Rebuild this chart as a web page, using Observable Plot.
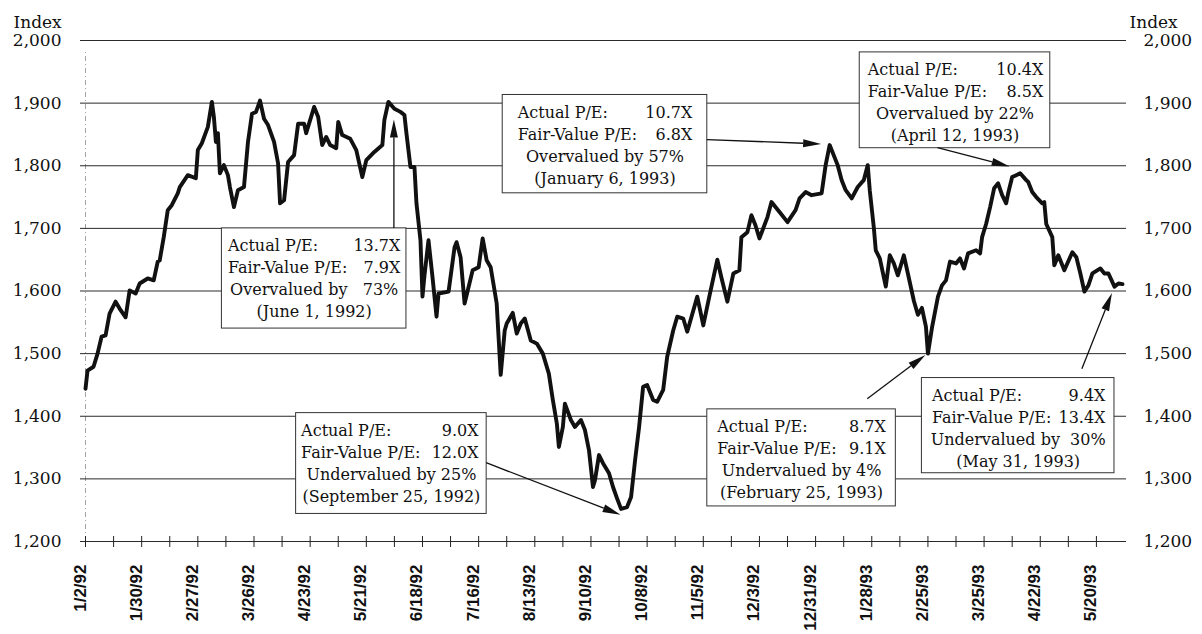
<!DOCTYPE html>
<html><head><meta charset="utf-8">
<script src="https://cdn.jsdelivr.net/npm/d3@7"></script>
<script src="https://cdn.jsdelivr.net/npm/@observablehq/plot@0.6"></script>
<style>body{margin:0;background:#fff}</style>
</head><body><div id="chart"></div>
<script>
// ---- Data ----
const dates = [
"1992-01-02","1992-01-03","1992-01-06","1992-01-08","1992-01-10","1992-01-12","1992-01-14","1992-01-17","1992-01-19","1992-01-22",
"1992-01-24","1992-01-27","1992-01-29","1992-02-02","1992-02-05","1992-02-07","1992-02-08","1992-02-10","1992-02-12","1992-02-14",
"1992-02-17","1992-02-18","1992-02-22","1992-02-26","1992-02-27","1992-02-29","1992-03-03","1992-03-05","1992-03-06","1992-03-07",
"1992-03-08","1992-03-09","1992-03-11","1992-03-13","1992-03-14","1992-03-16","1992-03-18","1992-03-21","1992-03-23","1992-03-25",
"1992-03-27","1992-03-29","1992-03-31","1992-04-02","1992-04-05","1992-04-07","1992-04-08","1992-04-10","1992-04-12","1992-04-15",
"1992-04-17","1992-04-20","1992-04-21","1992-04-25","1992-04-27","1992-04-29","1992-05-01","1992-05-03","1992-05-06","1992-05-07",
"1992-05-09","1992-05-13","1992-05-16","1992-05-19","1992-05-21","1992-05-25","1992-05-29","1992-05-30","1992-06-01","1992-06-04",
"1992-06-07","1992-06-09","1992-06-10","1992-06-12","1992-06-14","1992-06-15","1992-06-17","1992-06-18","1992-06-19","1992-06-21",
"1992-06-23","1992-06-25","1992-06-26","1992-07-01","1992-07-04","1992-07-05","1992-07-07","1992-07-09","1992-07-13","1992-07-16",
"1992-07-18","1992-07-20","1992-07-22","1992-07-25","1992-07-27","1992-07-29","1992-07-30","1992-08-02","1992-08-04","1992-08-06",
"1992-08-08","1992-08-11","1992-08-14","1992-08-17","1992-08-20","1992-08-22","1992-08-24","1992-08-25","1992-08-27","1992-08-28",
"1992-08-31","1992-09-02","1992-09-05","1992-09-07","1992-09-09","1992-09-11","1992-09-12","1992-09-14","1992-09-16","1992-09-19",
"1992-09-21","1992-09-23","1992-09-25","1992-09-28","1992-09-30","1992-10-02","1992-10-04","1992-10-06","1992-10-08","1992-10-11",
"1992-10-13","1992-10-16","1992-10-18","1992-10-21","1992-10-23","1992-10-26","1992-10-28","1992-11-02","1992-11-05","1992-11-08",
"1992-11-12","1992-11-14","1992-11-17","1992-11-20","1992-11-23","1992-11-24","1992-11-27","1992-11-29","1992-12-01","1992-12-03",
"1992-12-07","1992-12-09","1992-12-13","1992-12-17","1992-12-21","1992-12-23","1992-12-26","1992-12-29","1993-01-03","1993-01-05",
"1993-01-07","1993-01-11","1993-01-13","1993-01-15","1993-01-18","1993-01-21","1993-01-24","1993-01-26","1993-01-27","1993-01-29",
"1993-01-30","1993-02-01","1993-02-04","1993-02-06","1993-02-08","1993-02-10","1993-02-13","1993-02-15","1993-02-18","1993-02-20",
"1993-02-22","1993-02-24","1993-02-25","1993-02-27","1993-03-02","1993-03-04","1993-03-06","1993-03-08","1993-03-11","1993-03-13",
"1993-03-15","1993-03-17","1993-03-21","1993-03-23","1993-03-24","1993-03-26","1993-03-28","1993-03-30","1993-04-01","1993-04-03",
"1993-04-05","1993-04-06","1993-04-08","1993-04-10","1993-04-12","1993-04-15","1993-04-16","1993-04-18","1993-04-20","1993-04-23",
"1993-04-24","1993-04-25","1993-04-28","1993-04-29","1993-05-01","1993-05-04","1993-05-08","1993-05-10","1993-05-12","1993-05-14",
"1993-05-16","1993-05-18","1993-05-22","1993-05-24","1993-05-26","1993-05-29","1993-05-31","1993-06-02"
];
const values = [
1444,1473,1479,1500,1527,1529,1564,1583,1572,1558,
1601,1596,1612,1620,1617,1647,1649,1686,1729,1737,
1756,1766,1785,1780,1825,1836,1862,1902,1878,1838,
1852,1788,1801,1785,1766,1734,1761,1766,1838,1883,
1886,1904,1875,1865,1838,1804,1740,1745,1806,1817,
1867,1867,1852,1894,1878,1833,1846,1833,1828,1870,
1849,1843,1825,1782,1809,1822,1833,1873,1902,1891,
1886,1881,1852,1798,1798,1740,1681,1591,1625,1681,
1622,1559,1596,1599,1670,1678,1654,1580,1633,1638,
1684,1649,1638,1580,1466,1537,1548,1565,1532,1548,
1556,1521,1516,1500,1468,1426,1388,1351,1383,1420,
1394,1383,1394,1378,1346,1287,1298,1338,1325,1309,
1287,1269,1252,1255,1271,1330,1383,1447,1450,1426,
1423,1442,1495,1537,1559,1556,1535,1591,1545,1591,
1650,1622,1583,1628,1633,1686,1694,1721,1705,1684,
1718,1742,1726,1710,1729,1748,1758,1753,1756,1801,
1833,1801,1777,1761,1748,1766,1777,1801,1761,1702,
1665,1652,1607,1657,1644,1625,1657,1628,1584,1562,
1573,1543,1500,1541,1591,1609,1617,1647,1644,1652,
1636,1660,1665,1660,1686,1707,1734,1764,1772,1753,
1740,1756,1782,1785,1788,1777,1774,1758,1750,1740,
1742,1707,1686,1641,1657,1633,1662,1654,1628,1599,
1609,1628,1636,1628,1628,1607,1612,1611
];
const yTicks = [1200, 1300, 1400, 1500, 1600, 1700, 1800, 1900, 2000];
const xTickLabels = ["1/2/92","1/30/92","2/27/92","3/26/92","4/23/92","5/21/92","6/18/92","7/16/92","8/13/92","9/10/92",
  "10/8/92","11/5/92","12/3/92","12/31/92","1/28/93","2/25/93","3/25/93","4/22/93","5/20/93"];
const axisTitle = "Index";
const rowLabels = ["Actual P/E:", "Fair-Value P/E:"];
const actualPE = ["13.7X", "9.0X", "10.7X", "10.4X", "8.7X", "9.4X"];
const fairPE = ["7.9X", "12.0X", "6.8X", "8.5X", "9.1X", "13.4X"];
const valuation = ["Overvalued by   73%", "Undervalued by 25%", "Overvalued by 57%", "Overvalued by 22%", "Undervalued by 4%", "Undervalued by  30%"];
const noteDate = ["(June 1, 1992)", "(September 25, 1992)", "(January 6, 1993)", "(April 12, 1993)", "(February 25, 1993)", "(May 31, 1993)"];

// ---- Annotation layout (in data units) ----
const boxLayout = [
  {x1: "1992-03-10", x2: "1992-06-10", top: 1700, bottom: 1540, padL: 6, padR: 6},
  {x1: "1992-04-16", x2: "1992-07-20", top: 1405, bottom: 1244, padL: 5, padR: 8},
  {x1: "1992-07-28", x2: "1992-11-07", top: 1913, bottom: 1756, padL: 15, padR: 15},
  {x1: "1993-01-22", x2: "1993-04-27", top: 1981, bottom: 1828, padL: 8, padR: 7},
  {x1: "1992-11-07", x2: "1993-02-09", top: 1411, bottom: 1256, padL: 10, padR: 10},
  {x1: "1993-02-22", x2: "1993-05-29", top: 1461, bottom: 1309, padL: 10, padR: 9}
];
const arrowLayout = [
  {x1: "1992-06-04", y1: 1700, x2: "1992-06-04", y2: 1873},
  {x1: "1992-07-20", y1: 1325, x2: "1992-09-25", y2: 1242},
  {x1: "1992-11-07", y1: 1841, x2: "1993-01-03", y2: 1834},
  {x1: "1993-03-02", y1: 1828, x2: "1993-04-07", y2: 1798},
  {x1: "1993-01-26", y1: 1427, x2: "1993-02-24", y2: 1497},
  {x1: "1993-05-13", y1: 1475, x2: "1993-05-28", y2: 1596}
];

// ---- Build ----
const series = dates.map((d, i) => ({date: new Date(d), value: values[i]}));
const parseTick = d3.utcParse("%m/%d/%y");
const majorDates = xTickLabels.map(parseTick);
const minorDates = majorDates.slice(0, -1).map(d => d3.utcDay.offset(d, 14));
const allTicks = majorDates.concat(minorDates);
const xLabelData = xTickLabels.map((s, i) => ({date: majorDates[i], label: s}));
const fmt = d3.format(",");

const boxes = boxLayout.map((b, i) => {
  const x1 = new Date(b.x1), x2 = new Date(b.x2);
  return {x1, x2, mid: new Date((+x1 + +x2) / 2), top: b.top, bottom: b.bottom, padL: b.padL, padR: b.padR,
    actual: actualPE[i], fair: fairPE[i], val: valuation[i], date: noteDate[i]};
});

const serif = {fontFamily: "DejaVu Serif", fill: "#111"};
const lineDy = [17.5, 39.5, 61.5, 83.5];

const boxTextMarks = boxes.flatMap(b => [
  Plot.text([b], {x: "x1", y: "top", text: () => rowLabels[0], textAnchor: "start", dx: b.padL, dy: lineDy[0], fontSize: 16, ...serif}),
  Plot.text([b], {x: "x2", y: "top", text: "actual", textAnchor: "end", dx: -b.padR, dy: lineDy[0], fontSize: 16, ...serif}),
  Plot.text([b], {x: "x1", y: "top", text: () => rowLabels[1], textAnchor: "start", dx: b.padL, dy: lineDy[1], fontSize: 16, ...serif}),
  Plot.text([b], {x: "x2", y: "top", text: "fair", textAnchor: "end", dx: -b.padR, dy: lineDy[1], fontSize: 16, ...serif}),
  Plot.text([b], {x: "mid", y: "top", text: "val", textAnchor: "middle", dy: lineDy[2], fontSize: 16, ...serif}),
  Plot.text([b], {x: "mid", y: "top", text: "date", textAnchor: "middle", dy: lineDy[3], fontSize: 16, ...serif})
]);

function arrowsMark(index, scales) {
  const g = d3.create("svg:g");
  for (const a of arrowLayout) {
    const x1 = scales.x(new Date(a.x1)), y1 = scales.y(a.y1);
    const x2 = scales.x(new Date(a.x2)), y2 = scales.y(a.y2);
    const ang = Math.atan2(y2 - y1, x2 - x1);
    const L = 18, W = 4;
    const bx = x2 - L * Math.cos(ang), by = y2 - L * Math.sin(ang);
    g.append("line").attr("x1", x1).attr("y1", y1).attr("x2", bx).attr("y2", by)
      .attr("stroke", "#111").attr("stroke-width", 1.3);
    const px = -Math.sin(ang) * W, py = Math.cos(ang) * W;
    g.append("path").attr("d", `M${x2},${y2}L${bx + px},${by + py}L${bx - px},${by - py}Z`).attr("fill", "#111");
  }
  return g.node();
}

const chart = Plot.plot({
  width: 1202,
  height: 634,
  marginTop: 40,
  marginBottom: 93,
  marginLeft: 80,
  marginRight: 76,
  x: {type: "utc", domain: [new Date("1991-12-30T12:00:00Z"), new Date("1993-06-04T00:00:00Z")], axis: null},
  y: {domain: [1200, 2000], axis: null},
  style: {background: "#fff", color: "#111"},
  marks: [
    Plot.ruleX([majorDates[0]], {y1: 1200, y2: 1985, stroke: "#8a8a8a", strokeWidth: 0.8, strokeDasharray: "5,3,1,3"}),
    Plot.ruleY(yTicks, {stroke: "#2a2a2a", strokeWidth: 1}),
    Plot.ruleX(allTicks, {y1: 1200, y2: 1200, insetTop: -5, insetBottom: -6, stroke: "#222", strokeWidth: 1}),
    Plot.text(yTicks, {y: d => d, text: d => fmt(d), frameAnchor: "left", textAnchor: "end", dx: -19, fontSize: 17, ...serif}),
    Plot.text(yTicks, {y: d => d, text: d => fmt(d), frameAnchor: "right", textAnchor: "start", dx: 17, fontSize: 17, ...serif}),
    Plot.text([axisTitle], {frameAnchor: "top-left", textAnchor: "start", dx: -67, dy: -25, fontSize: 17, ...serif}),
    Plot.text([axisTitle], {frameAnchor: "top-right", textAnchor: "start", dx: 3, dy: -25, fontSize: 17, ...serif}),
    Plot.text(xLabelData, {x: "date", text: "label", frameAnchor: "bottom", rotate: -90, textAnchor: "end", dy: 23,
      fontFamily: "Liberation Sans", fontSize: 17, fontWeight: "bold", fill: "#111"}),
    Plot.line(series, {x: "date", y: "value", stroke: "#111", strokeWidth: 3.9, strokeLinejoin: "round", strokeLinecap: "round"}),
    Plot.rect(boxes, {x1: "x1", x2: "x2", y1: "top", y2: "bottom", fill: "#fff", stroke: "#333", strokeWidth: 1}),
    ...boxTextMarks,
    arrowsMark
  ]
});
document.getElementById("chart").appendChild(chart);
</script>
</body></html>
